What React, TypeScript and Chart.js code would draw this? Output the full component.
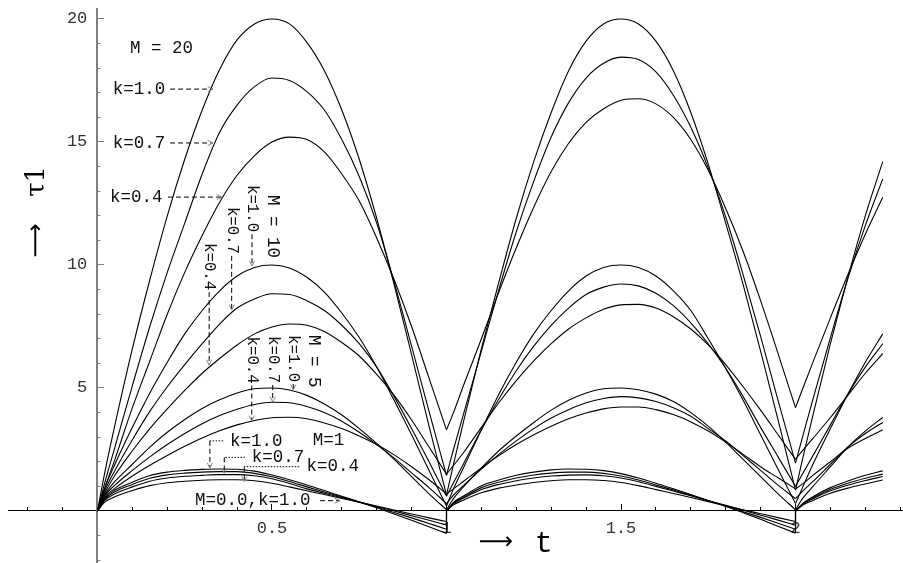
import React, { useEffect, useRef } from 'react';
import { Chart, registerables } from 'chart.js';

Chart.register(...registerables);

// time grid: period 1, period 2, start of period 3 (t = 1 and t = 2 repeat to start a new branch)
const T = [
  0, 0.02, 0.05, 0.1, 0.15, 0.2, 0.25, 0.3, 0.35, 0.4, 0.45, 0.5, 0.55, 0.6, 0.65, 0.7, 0.75, 0.8, 0.85, 0.9, 0.95, 1.0,
  1.0, 1.02, 1.05, 1.1, 1.15, 1.2, 1.25, 1.3, 1.35, 1.4, 1.45, 1.5, 1.55, 1.6, 1.65, 1.7, 1.75, 1.8, 1.85, 1.9, 1.95, 2.0,
  2.0, 2.02, 2.05, 2.1, 2.15, 2.2, 2.25,
];

const M20_K10 = [
  0, 1.5, 3.5, 6.6, 9.4, 12.0, 14.3, 16.3, 17.95, 19.15, 19.8, 20.0, 19.8, 19.05, 17.9, 16.3, 14.3, 11.9, 9.2, 6.35, 3.45, 0.65,
  0.65, 1.9, 3.7, 6.6, 9.3, 11.9, 14.2, 16.2, 17.9, 19.1, 19.8, 20.0, 19.8, 19.1, 17.9, 16.2, 14.1, 11.7, 9.2, 6.5, 3.7, 0.85,
  0.85, 2.1, 3.9, 6.8, 9.5, 12.0, 14.2,
];
const M20_K07 = [
  0, 1.1, 2.6, 5.1, 7.5, 9.7, 11.7, 13.7, 15.4, 16.5, 17.25, 17.6, 17.5, 17.05, 16.3, 15.1, 13.6, 11.7, 9.3, 6.7, 4.05, 1.45,
  1.45, 2.5, 4.0, 6.5, 9.0, 11.35, 13.4, 15.2, 16.6, 17.6, 18.2, 18.45, 18.35, 17.85, 16.9, 15.6, 13.95, 11.95, 9.6, 7.1, 4.5, 1.95,
  1.95, 3.0, 4.55, 7.05, 9.45, 11.6, 13.5,
];
const M20_K04 = [
  0, 0.9, 2.1, 4.2, 6.1, 8.0, 9.7, 11.2, 12.55, 13.65, 14.45, 15.0, 15.2, 15.1, 14.6, 13.7, 12.6, 11.1, 9.4, 7.5, 5.4, 3.3,
  3.3, 4.0, 5.15, 7.0, 8.9, 10.7, 12.35, 13.8, 14.95, 15.8, 16.35, 16.7, 16.76, 16.55, 16.0, 15.1, 13.85, 12.3, 10.55, 8.55, 6.4, 4.2,
  4.2, 4.95, 6.05, 7.85, 9.6, 11.25, 12.75,
];
const M10_K10 = [
  0, 0.9, 1.9, 3.4, 4.8, 6.05, 7.2, 8.15, 8.95, 9.55, 9.9, 10.0, 9.88, 9.5, 8.9, 8.05, 7.05, 5.85, 4.5, 3.1, 1.65, 0.2,
  0.2, 0.9, 1.8, 3.3, 4.75, 6.05, 7.2, 8.15, 8.95, 9.55, 9.9, 10.0, 9.9, 9.55, 8.95, 8.15, 7.0, 5.8, 4.5, 3.1, 1.7, 0.3,
  0.3, 0.95, 1.9, 3.35, 4.75, 6.05, 7.2,
];
const M10_K07 = [
  0, 0.8, 1.65, 2.9, 4.05, 5.05, 5.95, 6.8, 7.6, 8.25, 8.62, 8.83, 8.8, 8.55, 8.15, 7.55, 6.8, 5.85, 4.65, 3.35, 2.0, 0.6,
  0.6, 1.15, 1.95, 3.3, 4.55, 5.7, 6.7, 7.55, 8.25, 8.8, 9.1, 9.23, 9.15, 8.85, 8.35, 7.65, 6.8, 5.8, 4.65, 3.4, 2.2, 1.0,
  1.0, 1.5, 2.25, 3.5, 4.75, 5.85, 6.8,
];
const M10_K04 = [
  0, 0.7, 1.45, 2.45, 3.35, 4.15, 4.9, 5.6, 6.2, 6.75, 7.2, 7.48, 7.6, 7.55, 7.3, 6.85, 6.3, 5.55, 4.7, 3.7, 2.6, 1.5,
  1.5, 1.85, 2.4, 3.4, 4.4, 5.3, 6.1, 6.8, 7.4, 7.85, 8.2, 8.38, 8.4, 8.25, 7.9, 7.4, 6.75, 5.95, 5.05, 4.1, 3.1, 2.1,
  2.1, 2.45, 2.95, 3.8, 4.7, 5.6, 6.4,
];
const M5_K10 = [
  0, 0.65, 1.2, 1.9, 2.6, 3.2, 3.72, 4.17, 4.52, 4.8, 4.97, 5.0, 4.92, 4.7, 4.35, 3.9, 3.35, 2.75, 2.1, 1.4, 0.7, 0.05,
  0.05, 0.5, 1.0, 1.75, 2.45, 3.05, 3.6, 4.1, 4.5, 4.8, 4.97, 5.0, 4.93, 4.75, 4.45, 4.0, 3.45, 2.8, 2.1, 1.4, 0.7, 0.05,
  0.05, 0.5, 1.0, 1.8, 2.6, 3.25, 3.8,
];
const M5_K07 = [
  0, 0.6, 1.05, 1.65, 2.2, 2.7, 3.15, 3.55, 3.88, 4.14, 4.33, 4.42, 4.4, 4.25, 4.0, 3.65, 3.2, 2.7, 2.15, 1.55, 0.95, 0.3,
  0.3, 0.65, 1.05, 1.7, 2.3, 2.85, 3.35, 3.78, 4.12, 4.4, 4.57, 4.65, 4.6, 4.45, 4.2, 3.85, 3.35, 2.85, 2.25, 1.65, 1.05, 0.5,
  0.5, 0.8, 1.2, 1.9, 2.6, 3.15, 3.6,
];
const M5_K04 = [
  0, 0.55, 0.92, 1.42, 1.86, 2.26, 2.63, 2.97, 3.26, 3.5, 3.68, 3.79, 3.81, 3.75, 3.58, 3.35, 3.05, 2.7, 2.28, 1.8, 1.27, 0.7,
  0.7, 0.9, 1.22, 1.75, 2.25, 2.7, 3.1, 3.45, 3.75, 3.98, 4.15, 4.23, 4.23, 4.12, 3.92, 3.62, 3.25, 2.8, 2.3, 1.8, 1.35, 0.9,
  0.9, 1.1, 1.45, 2.0, 2.55, 2.95, 3.3,
];
const M1_K10 = [
  0, 0.5, 0.85, 1.17, 1.44, 1.58, 1.65, 1.69, 1.71, 1.7, 1.62, 1.46, 1.27, 1.06, 0.83, 0.6, 0.37, 0.13, -0.12, -0.38, -0.64, -0.91,
  0, 0.35, 0.62, 1.03, 1.26, 1.45, 1.58, 1.67, 1.71, 1.7, 1.64, 1.52, 1.34, 1.13, 0.9, 0.67, 0.43, 0.18, -0.07, -0.34, -0.62, -0.9,
  0, 0.3, 0.58, 0.95, 1.22, 1.45, 1.63,
];
const M1_K07 = [
  0, 0.46, 0.78, 1.08, 1.33, 1.47, 1.54, 1.58, 1.6, 1.6, 1.53, 1.39, 1.2, 0.98, 0.77, 0.57, 0.36, 0.15, -0.06, -0.28, -0.51, -0.74,
  0, 0.32, 0.57, 0.95, 1.17, 1.34, 1.46, 1.54, 1.58, 1.58, 1.53, 1.42, 1.26, 1.06, 0.85, 0.64, 0.42, 0.2, -0.03, -0.26, -0.5, -0.74,
  0, 0.28, 0.53, 0.88, 1.13, 1.33, 1.5,
];
const M1_K04 = [
  0, 0.42, 0.7, 0.98, 1.21, 1.34, 1.41, 1.45, 1.48, 1.48, 1.43, 1.31, 1.12, 0.9, 0.72, 0.54, 0.36, 0.18, 0.0, -0.19, -0.38, -0.57,
  0, 0.3, 0.53, 0.87, 1.08, 1.23, 1.34, 1.42, 1.46, 1.47, 1.43, 1.34, 1.19, 1.0, 0.81, 0.62, 0.42, 0.23, 0.03, -0.17, -0.37, -0.58,
  0, 0.26, 0.5, 0.82, 1.05, 1.24, 1.4,
];
const M0_K10 = [
  0, 0.35, 0.58, 0.83, 1.03, 1.15, 1.21, 1.25, 1.27, 1.27, 1.23, 1.13, 0.98, 0.82, 0.67, 0.51, 0.36, 0.2, 0.04, -0.12, -0.28, -0.43,
  0, 0.25, 0.45, 0.74, 0.93, 1.06, 1.16, 1.23, 1.27, 1.27, 1.24, 1.16, 1.03, 0.87, 0.71, 0.55, 0.38, 0.22, 0.05, -0.11, -0.27, -0.43,
  0, 0.23, 0.43, 0.72, 0.93, 1.1, 1.26,
];

const CURVES = [
  M20_K10, M20_K07, M20_K04,
  M10_K10, M10_K07, M10_K04,
  M5_K10, M5_K07, M5_K04,
  M1_K10, M1_K07, M1_K04,
  M0_K10,
];

const X_MINOR_TICKS = [-0.2, -0.1, 0.1, 0.2, 0.3, 0.4, 0.5, 0.6, 0.7, 0.8, 0.9, 1.0, 1.1, 1.2, 1.3, 1.4, 1.5, 1.6, 1.7, 1.8, 1.9, 2.0, 2.1, 2.2, 2.3];
const X_MAJOR_TICKS = [0.5, 1, 1.5, 2];
const X_TICK_LABELS = ['0.5', '1', '1.5', '2'];
const Y_MINOR_TICKS = [-2, -1, 1, 2, 3, 4, 5, 6, 7, 8, 9, 10, 11, 12, 13, 14, 15, 16, 17, 18, 19, 20];
const Y_MAJOR_TICKS = [5, 10, 15, 20];
const Y_TICK_LABELS = ['5', '10', '15', '20'];

// annotation texts, anchored in data coordinates
const NOTES = [
  { text: 'M = 20', t: 0.093, v: 18.82, size: 17.5 },
  { text: 'k=1.0', t: 0.044, v: 17.15, size: 17.5 },
  { text: 'k=0.7', t: 0.044, v: 14.96, size: 17.5 },
  { text: 'k=0.4', t: 0.036, v: 12.76, size: 17.5 },
  { text: 'M = 10', t: 0.503, v: 12.85, size: 17.5, rot: true },
  { text: 'k=1.0', t: 0.4427, v: 13.25, size: 15.7, rot: true },
  { text: 'k=0.7', t: 0.3845, v: 12.36, size: 15.7, rot: true },
  { text: 'k=0.4', t: 0.32, v: 10.89, size: 15.7, rot: true },
  { text: 'M = 5', t: 0.619, v: 7.15, size: 17.5, rot: true },
  { text: 'k=1.0', t: 0.561, v: 7.15, size: 15.7, rot: true },
  { text: 'k=0.7', t: 0.502, v: 7.11, size: 15.7, rot: true },
  { text: 'k=0.4', t: 0.442, v: 7.09, size: 15.7, rot: true },
  { text: 'k=1.0', t: 0.38, v: 2.85, size: 17.5 },
  { text: 'k=0.7', t: 0.4418, v: 2.18, size: 17.5 },
  { text: 'k=0.4', t: 0.599, v: 1.8, size: 17.5 },
  { text: 'M=1', t: 0.6166, v: 2.89, size: 17.5 },
  { text: 'M=0.0,k=1.0', t: 0.2794, v: 0.42, size: 17.5 },
];

// leader lines (data coordinates); dottedFirst: first segment dotted
const LEADERS = [
  { pts: [[0.208, 17.15], [0.331, 17.15]] },
  { pts: [[0.208, 14.96], [0.331, 14.96]] },
  { pts: [[0.202, 12.76], [0.357, 12.76]] },
  { pts: [[0.4427, 11.25], [0.4427, 9.95]] },
  { pts: [[0.3845, 10.37], [0.3845, 8.17]] },
  { pts: [[0.32, 8.9], [0.32, 5.93]] },
  { pts: [[0.561, 5.16], [0.561, 4.92]] },
  { pts: [[0.502, 5.12], [0.502, 4.43]] },
  { pts: [[0.442, 5.1], [0.442, 3.66]] },
  { pts: [[0.36, 2.85], [0.322, 2.85], [0.322, 1.74]], dottedFirst: true },
  { pts: [[0.4226, 2.18], [0.3633, 2.18], [0.3633, 1.53]], dottedFirst: true },
  { pts: [[0.578, 1.8], [0.4206, 1.8], [0.4206, 1.19]], dottedFirst: true },
  { pts: [[0.6375, 0.42], [0.6948, 0.42]] },
];

const AXIS_TITLES = {
  yArrow: { text: '\u27F6', t: -0.173, v: 11.0 },
  yTau: { text: '\u03C41', t: -0.173, v: 13.4 },
  xArrow: { text: '\u27F6', t: 1.142, v: -1.3 },
  xT: { text: 't', t: 1.279, v: -1.34 },
};

const X_RANGE = [-0.2564, 2.308];
const Y_RANGE = [-2.114, 20.447];

const MONO = '"Liberation Mono", "DejaVu Sans Mono", monospace';

function splitSegments(values: number[]) {
  const segs: { x: number; y: number }[][] = [];
  let cur: { x: number; y: number }[] = [];
  T.forEach((t, i) => {
    if (i > 0 && t === T[i - 1]) {
      segs.push(cur);
      cur = [];
    }
    cur.push({ x: t, y: values[i] });
  });
  segs.push(cur);
  return segs;
}

function buildDatasets() {
  const ds: any[] = [];
  CURVES.forEach((vals) => {
    const segs = splitSegments(vals);
    segs.forEach((seg, k) => {
      ds.push({
        data: seg,
        borderColor: '#000',
        borderWidth: 1.1,
        pointRadius: 0,
        fill: false,
        cubicInterpolationMode: 'monotone',
      });
      if (k < segs.length - 1) {
        const a = seg[seg.length - 1];
        const b = segs[k + 1][0];
        if (a.y !== b.y) {
          ds.push({
            data: [a, b],
            borderColor: '#000',
            borderWidth: 1.1,
            pointRadius: 0,
            fill: false,
            tension: 0,
          });
        }
      }
    });
  });
  return ds;
}

const annotationPlugin = {
  id: 'annot',
  afterDatasetsDraw(chart: any) {
    const { ctx } = chart;
    const xs = chart.scales.x;
    const ys = chart.scales.y;
    const px = (t: number) => xs.getPixelForValue(t);
    const py = (v: number) => ys.getPixelForValue(v);
    ctx.save();
    ctx.fillStyle = '#111';
    NOTES.forEach((n: any) => {
      ctx.font = `${n.size}px ${MONO}`;
      ctx.textBaseline = 'middle';
      ctx.textAlign = 'left';
      if (n.rot) {
        ctx.save();
        ctx.translate(px(n.t), py(n.v));
        ctx.rotate(Math.PI / 2);
        ctx.fillText(n.text, 0, 0);
        ctx.restore();
      } else {
        ctx.fillText(n.text, px(n.t), py(n.v));
      }
    });
    // leaders
    LEADERS.forEach((l: any) => {
      const p = l.pts.map((q: number[]) => [px(q[0]), py(q[1])]);
      ctx.strokeStyle = '#000';
      ctx.lineWidth = 1;
      for (let i = 0; i < p.length - 1; i++) {
        ctx.setLineDash(l.dottedFirst && i === 0 ? [1.5, 1.5] : [5, 3]);
        ctx.beginPath();
        ctx.moveTo(p[i][0], p[i][1]);
        ctx.lineTo(p[i + 1][0], p[i + 1][1]);
        ctx.stroke();
      }
      ctx.setLineDash([]);
      const a = p[p.length - 2];
      const b = p[p.length - 1];
      const ang = Math.atan2(b[1] - a[1], b[0] - a[0]);
      ctx.strokeStyle = '#888';
      ctx.beginPath();
      ctx.moveTo(b[0] - 6 * Math.cos(ang - 0.45), b[1] - 6 * Math.sin(ang - 0.45));
      ctx.lineTo(b[0], b[1]);
      ctx.lineTo(b[0] - 6 * Math.cos(ang + 0.45), b[1] - 6 * Math.sin(ang + 0.45));
      ctx.stroke();
    });
    // axis titles
    ctx.fillStyle = '#000';
    ctx.textAlign = 'center';
    ctx.textBaseline = 'middle';
    const ya = AXIS_TITLES.yArrow;
    ctx.save();
    ctx.translate(px(ya.t), py(ya.v));
    ctx.rotate(-Math.PI / 2);
    ctx.font = `24px "DejaVu Sans", sans-serif`;
    ctx.fillText(ya.text, 0, 0);
    ctx.restore();
    const yt = AXIS_TITLES.yTau;
    ctx.save();
    ctx.translate(px(yt.t), py(yt.v));
    ctx.rotate(-Math.PI / 2);
    ctx.font = `26px "DejaVu Serif", serif`;
    ctx.fillText(yt.text, 0, 0);
    ctx.restore();
    const xa = AXIS_TITLES.xArrow;
    ctx.font = `24px "DejaVu Sans", sans-serif`;
    ctx.fillText(xa.text, px(xa.t), py(xa.v));
    const xt = AXIS_TITLES.xT;
    ctx.font = `30px ${MONO}`;
    ctx.fillText(xt.text, px(xt.t), py(xt.v));
    ctx.restore();
  },
};

const zeroX = (s: any) => {
  s.height = 0;
  s.paddingLeft = 0;
  s.paddingRight = 0;
  s.paddingTop = 0;
  s.paddingBottom = 0;
};
const zeroY = (s: any) => {
  s.width = 0;
  s.paddingLeft = 0;
  s.paddingRight = 0;
  s.paddingTop = 0;
  s.paddingBottom = 0;
};

export default function App() {
  const ref = useRef<HTMLCanvasElement>(null);
  useEffect(() => {
    const chart = new Chart(ref.current as HTMLCanvasElement, {
      type: 'line',
      data: { datasets: buildDatasets() },
      options: {
        animation: false,
        responsive: false,
        maintainAspectRatio: false,
        devicePixelRatio: 1,
        events: [],
        layout: { padding: 0 },
        plugins: { legend: { display: false }, tooltip: { enabled: false }, title: { display: false } },
        scales: {
          x: {
            type: 'linear',
            min: X_RANGE[0],
            max: X_RANGE[1],
            position: { y: 0 } as any,
            grid: { drawOnChartArea: false, drawTicks: true, tickLength: -4, tickColor: '#000', tickWidth: 1 },
            border: { display: true, color: '#000', width: 1 },
            ticks: { display: false, autoSkip: false },
            afterBuildTicks: (s: any) => {
              s.ticks = X_MINOR_TICKS.map((v) => ({ value: v }));
            },
            afterFit: zeroX,
          },
          x2: {
            type: 'linear',
            min: X_RANGE[0],
            max: X_RANGE[1],
            position: { y: 0 } as any,
            grid: { drawOnChartArea: false, drawTicks: true, tickLength: -7, tickColor: '#000', tickWidth: 1 },
            border: { display: false },
            ticks: {
              autoSkip: false,
              maxRotation: 0,
              padding: 14,
              color: '#333',
              font: { family: MONO, size: 17 },
              callback: (v: any) => {
                const i = X_MAJOR_TICKS.indexOf(Number(v));
                return i >= 0 ? X_TICK_LABELS[i] : '';
              },
            },
            afterBuildTicks: (s: any) => {
              s.ticks = X_MAJOR_TICKS.map((v) => ({ value: v }));
            },
            afterFit: zeroX,
          },
          y: {
            type: 'linear',
            min: Y_RANGE[0],
            max: Y_RANGE[1],
            position: { x: 0 } as any,
            grid: { drawOnChartArea: false, drawTicks: true, tickLength: -4.5, tickColor: '#808080', tickWidth: 1 },
            border: { display: true, color: '#808080', width: 2 },
            ticks: { display: false, autoSkip: false },
            afterBuildTicks: (s: any) => {
              s.ticks = Y_MINOR_TICKS.map((v) => ({ value: v }));
            },
            afterFit: zeroY,
          },
          y2: {
            type: 'linear',
            min: Y_RANGE[0],
            max: Y_RANGE[1],
            position: { x: 0 } as any,
            grid: { drawOnChartArea: false, drawTicks: true, tickLength: -7, tickColor: '#808080', tickWidth: 1 },
            border: { display: false },
            ticks: {
              autoSkip: false,
              padding: 0,
              color: '#333',
              font: { family: MONO, size: 17 },
              callback: (v: any) => {
                const i = Y_MAJOR_TICKS.indexOf(Number(v));
                return i >= 0 ? Y_TICK_LABELS[i] + ' ' : '';
              },
            },
            afterBuildTicks: (s: any) => {
              s.ticks = Y_MAJOR_TICKS.map((v) => ({ value: v }));
            },
            afterFit: zeroY,
          },
        },
      } as any,
      plugins: [annotationPlugin],
    });
    return () => chart.destroy();
  }, []);
  return (
    <div style={{ position: 'absolute', left: 8, top: 8, width: 895, height: 555 }}>
      <canvas ref={ref} width={895} height={555} style={{ display: 'block', width: 895, height: 555 }} />
    </div>
  );
}
